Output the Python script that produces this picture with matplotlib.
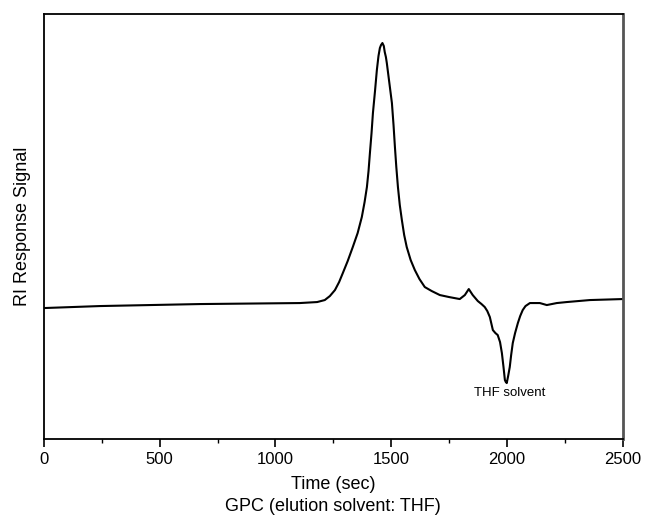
import matplotlib
matplotlib.use("Agg")
import numpy as np
from matplotlib import pyplot as plt
from matplotlib.ticker import MultipleLocator

plt.rcParams['font.family'] = ['Liberation Sans', 'DejaVu Sans']

# GPC trace (time in sec, RI signal in arbitrary units)
time_s = [0, 242, 674, 1105, 1180, 1213, 1235, 1257, 1275, 1291, 1312, 1334,
          1355, 1373, 1385, 1395, 1402, 1408, 1415, 1421, 1430, 1438, 1445,
          1451, 1456, 1462, 1468, 1472, 1477, 1481, 1492, 1503, 1510, 1516,
          1522, 1529, 1537, 1546, 1556, 1567, 1584, 1602, 1622, 1645, 1675,
          1710, 1750, 1796, 1818, 1835, 1852, 1874, 1890, 1904, 1915, 1926,
          1939, 1950, 1960, 1970, 1978, 1985, 1991, 1995, 1999, 2005, 2012,
          2018, 2025, 2035, 2047, 2057, 2068, 2080, 2099, 2142, 2172, 2215,
          2258, 2358, 2500]
signal = [131, 133, 135, 136, 137, 139, 143, 149, 157, 166, 178, 192,
          206, 222, 237, 252, 268, 286, 306, 326, 348, 369, 383,
          391, 394, 396, 393, 387, 382, 376, 356, 336, 314, 292,
          272, 252, 234, 219, 204, 192, 179, 169, 160, 152, 148,
          144, 142, 140, 144, 150, 144, 138, 135, 132, 128, 122,
          109, 106, 104, 97, 86, 72, 59, 57, 56, 63, 72,
          84, 96, 106, 116, 123, 129, 133, 136, 136, 134, 136,
          137, 139, 140]

fig = plt.figure(figsize=(6.46, 5.19), dpi=100)
ax = fig.add_axes([0.068, 0.154, 0.896, 0.819])

ax.plot(time_s, signal, color="black", linewidth=1.5)

ax.set_xlim(0, 2500)
ax.set_ylim(0, 425)
ax.xaxis.set_major_locator(MultipleLocator(500))
ax.xaxis.set_minor_locator(MultipleLocator(250))
ax.tick_params(axis="x", which="major", direction="out", length=6, width=1.2,
               labelsize=12, pad=3)
ax.tick_params(axis="x", which="minor", direction="out", length=3, width=1)
ax.set_yticks([])

for s in ax.spines.values():
    s.set_linewidth(1.3)
ax.spines["right"].set_color("#555555")
ax.spines["right"].set_linewidth(2)

ax.set_xlabel("Time (sec)\nGPC (elution solvent: THF)", fontsize=13,
              linespacing=1.35, labelpad=7)
ax.set_ylabel("RI Response Signal", fontsize=13, labelpad=9)

ax.text(2010, 46, "THF solvent", fontsize=9.5, ha="center", va="center")

plt.savefig("out.png", dpi=100)
